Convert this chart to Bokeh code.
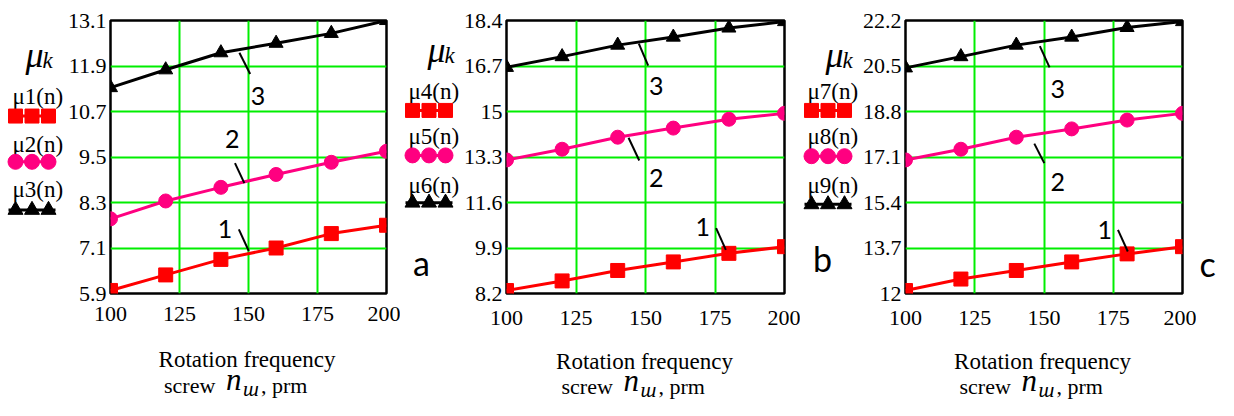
from bokeh.plotting import figure
from bokeh.layouts import row, column
from bokeh.models import Range1d, FixedTicker, Label, CustomJSTickFormatter
from bokeh.core.properties import value
from bokeh.embed import file_html
from bokeh.resources import INLINE

# ---------------- data ----------------
n = [100, 120, 140, 160, 180, 200]
mu1 = [5.98, 6.39, 6.80, 7.10, 7.48, 7.70]
mu2 = [7.87, 8.34, 8.70, 9.04, 9.36, 9.65]
mu3 = [11.33, 11.80, 12.25, 12.50, 12.76, 13.10]
mu4 = [8.31, 8.67, 9.06, 9.38, 9.70, 9.95]
mu5 = [13.19, 13.59, 14.04, 14.38, 14.71, 14.93]
mu6 = [16.65, 17.05, 17.48, 17.78, 18.12, 18.36]
mu7 = [12.11, 12.54, 12.86, 13.18, 13.48, 13.75]
mu8 = [16.99, 17.39, 17.84, 18.15, 18.48, 18.73]
mu9 = [20.43, 20.85, 21.28, 21.58, 21.94, 22.16]

x_ticks = [100, 125, 150, 175, 200]
y_ticks_a = [5.9, 7.1, 8.3, 9.5, 10.7, 11.9, 13.1]
y_ticks_b = [8.2, 9.9, 11.6, 13.3, 15, 16.7, 18.4]
y_ticks_c = [12, 13.7, 15.4, 17.1, 18.8, 20.5, 22.2]

names_a = ["\u03bc1(n)", "\u03bc2(n)", "\u03bc3(n)"]
names_b = ["\u03bc4(n)", "\u03bc5(n)", "\u03bc6(n)"]
names_c = ["\u03bc7(n)", "\u03bc8(n)", "\u03bc9(n)"]
panel_letters = ["a", "b", "c"]
curve_numbers = ["1", "2", "3"]
x_title_1 = "Rotation frequency"
x_title_2 = ["screw", "n", "\u0448", ", prm"]
y_title = ["\u03bc", "k"]

# curve-number callouts (data coords): (text x, text y, leader x0, y0, x1, y1)
callouts_a = [(141.5, 7.59, 146.5, 7.59, 150.1, 7.02),
              (144.1, 9.98, 145.1, 9.34, 148.5, 8.81),
              (153.4, 11.11, 146.7, 12.25, 150.6, 11.69)]
callouts_b = [(170.6, 10.68, 175.4, 10.64, 178.9, 9.83),
              (153.9, 12.50, 143.9, 14.02, 147.75, 13.17),
              (153.9, 15.96, 147.6, 17.54, 150.96, 16.71)]
callouts_c = [(171.9, 14.38, 176.7, 14.38, 180.25, 13.57),
              (155.0, 16.15, 146.5, 17.60, 150.1, 16.87),
              (155.0, 19.64, 148.5, 21.24, 152.0, 20.45)]

# ---------------- style ----------------
RED = "#ff0000"
PINK = "#ff0080"
BLACK = "#000000"
GRID = "#00ee00"
SERIF = "Liberation Serif"
SANS = "Lato"
COLORS = [RED, PINK, BLACK]
MARKERS = ["square", "circle", "triangle"]
SAMPLE_SIZES = [14, 15, 15]
TOP_H = 340      # height of the row holding the plots
BOT_H = 60       # height of the strip holding the x titles

fmt = CustomJSTickFormatter(code="return tick.toFixed(1).replace(/\\.0$/, '');")


def aux(width, height):
    """Axis-less helper canvas whose data units are its own pixels (y down)."""
    p = figure(width=width, height=height, x_range=Range1d(0, width),
               y_range=Range1d(height, 0), output_backend="svg",
               toolbar_location=None, x_axis_type=None, y_axis_type=None,
               min_border=0, min_border_left=0, min_border_right=0,
               min_border_top=0, min_border_bottom=0)
    p.outline_line_color = None
    p.background_fill_color = "white"
    p.border_fill_color = "white"
    return p


def txt(p, x, y, s, size, font=SERIF, style="normal", color="black",
        align="left", baseline="middle"):
    p.text(x=[x], y=[y], text=[s], text_font=value(font),
           text_font_size=value(f"{size}px"), text_font_style=style,
           text_color=color, text_align=align, text_baseline=baseline)


def legend_fig(width, names, text_x, text_y, sample_x, sample_y, mu_pos,
               letter=None):
    p = aux(width, TOP_H)
    for i in range(3):
        txt(p, text_x, text_y[i], names[i], 23)
        x0 = sample_x
        y = sample_y[i]
        p.line([x0, x0 + 47], [y, y], line_color=COLORS[i], line_width=3)
        p.scatter([x0 + 7, x0 + 23.5, x0 + 40], [y, y, y], marker=MARKERS[i],
                  size=SAMPLE_SIZES[i], fill_color=COLORS[i],
                  line_color=COLORS[i])
    mx, mb, kb = mu_pos
    txt(p, mx, mb, y_title[0], 36, style="italic", baseline="alphabetic")
    txt(p, mx + 17, kb, y_title[1], 23, style="italic", baseline="alphabetic")
    if letter is not None:
        lx, lb, s = letter
        txt(p, lx, lb, s, 34, font=SANS, align="center", baseline="alphabetic")
    return p


def plot_fig(width, left, top, fw, fh, yticks, series, callouts, xstandoff):
    right = width - left - fw
    bottom = TOP_H - top - fh
    p = figure(width=width, height=TOP_H, output_backend="svg",
               toolbar_location=None, x_range=Range1d(100, 200),
               y_range=Range1d(yticks[0], yticks[-1]),
               min_border_left=left, min_border_right=right,
               min_border_top=top, min_border_bottom=bottom)
    p.background_fill_color = "white"
    p.border_fill_color = "white"
    p.outline_line_color = "black"
    p.outline_line_width = 2.5
    p.xaxis.ticker = FixedTicker(ticks=x_ticks)
    p.yaxis.ticker = FixedTicker(ticks=yticks)
    p.yaxis.formatter = fmt
    for ax in (p.xaxis[0], p.yaxis[0]):
        ax.axis_line_color = None
        ax.major_tick_line_color = None
        ax.minor_tick_line_color = None
        ax.major_tick_out = 0
        ax.major_tick_in = 0
        ax.major_label_text_font = SERIF
        ax.major_label_text_font_size = "22px"
        ax.major_label_text_color = "black"
    p.yaxis.major_label_standoff = 4
    p.xaxis.major_label_standoff = xstandoff
    p.xgrid.ticker = FixedTicker(ticks=x_ticks)
    p.ygrid.ticker = FixedTicker(ticks=yticks)
    for g in (p.xgrid[0], p.ygrid[0]):
        g.grid_line_color = GRID
        g.grid_line_width = 2

    for ys, col, mk in zip(series, COLORS, MARKERS):
        p.line(n, ys, line_color=col, line_width=3)
        p.scatter(n, ys, marker=mk, size=14, fill_color=col, line_color=col)

    for num, (tx, ty, x0, y0, x1, y1) in zip(curve_numbers, callouts):
        p.segment(x0=[x0], y0=[y0], x1=[x1], y1=[y1], line_color="black",
                  line_width=2)
        p.add_layout(Label(x=tx, y=ty, text=num, text_font=SANS,
                           text_font_size="25px", text_align="center",
                           text_baseline="middle", text_color="black"))
    return p


# x: legA 0-64 | plotA 64-400 | legB 400-460 | plotB 460-800 |
#    legC 800-859 | plotC 859-1196 | letter 1196-1218
legA = legend_fig(64, names_a, 12, [95, 155, 211], 8, [119, 176, 236],
                  (25, 43, 50))
plotA = plot_fig(336, 43, 20, 279, 281, y_ticks_a, [mu1, mu2, mu3],
                 callouts_a, 13)
legB = legend_fig(60, names_b, 8, [88, 145, 205], 5, [112, 168, 227],
                  (27, 37, 44), letter=(21, 302, panel_letters[0]))
plotB = plot_fig(340, 44, 13, 280, 280, y_ticks_b, [mu4, mu5, mu6],
                 callouts_b, 17)
legC = legend_fig(59, names_c, 7, [88, 145, 205], 4, [112, 169, 229],
                  (25, 43, 50), letter=(22, 297, panel_letters[1]))
plotC = plot_fig(337, 43, 13, 280, 280, y_ticks_c, [mu7, mu8, mu9],
                 callouts_c, 17)
letC = aux(22, TOP_H)
txt(letC, 11, 303, panel_letters[2], 34, font=SANS, align="center",
    baseline="alphabetic")

# bottom strip with the two-line x-axis titles (y 340-400)
bot = aux(1218, BOT_H)
for cx, b1, b2 in [(246.5, 19, 45), (644, 21, 46), (1042, 21, 46)]:
    txt(bot, cx, b1, x_title_1, 23, align="center", baseline="alphabetic")
    txt(bot, cx - 83, b2, x_title_2[0], 22, baseline="alphabetic")
    txt(bot, cx - 21, b2 - 6, x_title_2[1], 31, style="italic",
        baseline="alphabetic")
    txt(bot, cx - 4, b2 + 3, x_title_2[2], 21, style="italic",
        baseline="alphabetic")
    txt(bot, cx + 14, b2, x_title_2[3], 22, baseline="alphabetic")

layout = column(row(legA, plotA, legB, plotB, legC, plotC, letC, spacing=0),
                bot, spacing=0)
open("out.html", "w").write(file_html(layout, INLINE))
